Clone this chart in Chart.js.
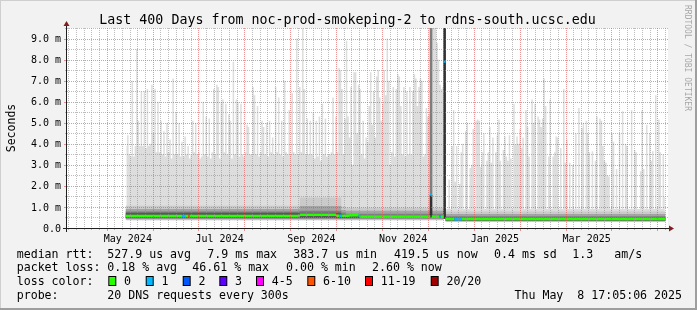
<!DOCTYPE html>
<html><head><meta charset="utf-8">
<script src="https://cdn.jsdelivr.net/npm/chart.js@4.4.1/dist/chart.umd.min.js"></script>
<style>
html,body{margin:0;padding:0;background:#f2f2f2;overflow:hidden;}
#wrap{width:697px;height:310px;position:relative;}
canvas{display:block;}
</style></head><body>
<div id="wrap"><canvas id="chart" width="697" height="310"></canvas></div>
<script>
// ================= DATA =================
const TITLE = "Last 400 Days from noc-prod-smokeping-2 to rdns-south.ucsc.edu";
const Y_TITLE = "Seconds";
const WATERMARK = "RRDTOOL / TOBI OETIKER";
const yTickValues = [0,1,2,3,4,5,6,7,8,9];
const yTickLabels = ["0.0","1.0 m","2.0 m","3.0 m","4.0 m","5.0 m","6.0 m","7.0 m","8.0 m","9.0 m"];
// label every second major period, starting with May 2024
const xLabelTexts = ["May 2024","Jul 2024","Sep 2024","Nov 2024","Jan 2025","Mar 2025"];

// x values are days since 2024-05-01 00:00
// smoke maximum (ms), one value per day, first period starting day 13
const smokeStartA = 13;
const smokeMaxA = [
 3.9,4.4,3.5,3.4,7.0,3.4,3.9,8.5,5.1,3.9,
 6.5,3.9,6.5,3.8,6.6,3.9,4.0,6.8,4.5,6.6,
 3.6,6.0,3.6,5.1,3.5,4.6,3.4,5.0,3.6,4.2,
 3.3,7.1,3.5,5.5,3.5,5.0,3.4,4.1,3.4,4.35,
 3.5,3.9,3.3,3.5,5.1,3.6,5.0,3.5,3.6,3.3,
 3.4,6.0,3.5,5.3,3.4,5.2,3.3,3.6,6.6,3.5,
 6.8,6.7,3.3,6.0,6.1,3.6,5.9,3.5,5.4,5.1,
 3.3,7.9,3.5,6.1,6.0,3.4,5.9,3.5,3.4,3.6,
 4.9,4.8,3.5,3.5,6.7,6.3,3.5,5.8,3.4,3.6,
 5.1,4.8,3.5,5.0,3.4,5.1,3.6,4.3,3.5,6.7,
 3.6,6.2,3.5,5.1,3.4,7.0,3.6,3.5,5.6,3.5,
 6.4,3.6,3.5,9.0,3.5,6.7,3.6,9.5,6.6,3.5,
 5.2,3.5,5.1,3.5,5.5,3.3,5.1,3.4,5.3,3.2,
 5.9,3.5,5.2,3.4,3.5,3.5,3.6,6.2,3.5,5.3,
 3.6,7.6,7.5,6.6,3.5,5.2,8.9,5.3,4.3,6.7,
 3.0,7.4,7.4,4.5,6.8,6.6,3.5,5.1,3.3,4.3,
 4.1,5.8,7.4,4.9,6.5,4.3,7.2,7.5,6.2,5.1,
 5.9,7.5,6.3,9.0,7.0,3.0,3.6,6.7,3.4,6.6,
 7.3,7.2,5.8,3.5,6.7,3.4,6.5,3.5,6.7,3.5,
 6.5,7.3,7.1,5.8,6.7,7.1,7.0,3.4,3.5,5.7,
 5.3,5.4,9.5,9.5,9.5,9.5,8.8,8.0,6.8,6.6,6.7
];
const smokeLowA = 0.36;
// second period starting day 225
const smokeStartB = 225;
const smokeMaxB = [
 0.9,0.9,2.3,0.9,3.9,5.6,2.2,3.9,0.9,2.1,
 3.6,4.0,0.9,4.6,5.0,0.9,2.85,3.0,4.7,0.9,
 5.1,5.15,5.1,2.9,3.6,4.5,0.9,3.2,3.6,4.8,
 3.1,4.3,0.9,3.6,4.4,5.15,3.2,0.9,3.7,4.35,
 3.4,3.2,4.4,3.3,0.9,5.9,3.95,4.35,4.0,4.7,
 3.8,4.3,0.9,5.6,4.8,3.4,0.9,6.1,5.0,5.9,
 0.9,5.3,5.15,4.8,5.2,7.1,5.8,0.9,3.4,6.1,
 0.9,3.4,3.6,4.35,4.3,0.9,3.8,0.9,6.6,3.1,
 4.2,0.9,3.1,0.9,3.0,0.9,4.5,0.9,5.7,0.9,
 4.75,5.0,0.9,5.1,4.5,3.6,0.9,3.65,0.9,3.2,
 5.3,0.9,5.2,5.1,3.9,3.2,3.1,2.5,2.45,0.9,
 4.5,4.1,0.9,2.8,0.9,4.5,0.9,5.55,0.9,4.0,
 3.9,0.9,0.9,5.6,0.9,3.7,3.6,0.9,0.9,2.7,
 5.6,2.8,0.9,4.9,0.9,4.5,3.2,3.65,0.9,6.3,
 0.9,5.15,3.6,0.9,3.5,1.5
];
const smokeLowB = 0.28;

// inner smoke bands (breakpoint days, tops per band), lower bounds per band
const bandDaysA = [12.5, 128, 155.5, 158.5, 168, 223.5];
const bandTopA = [
 [0.98, 1.06, 1.45, 1.02, 0.96, 0.96],
 [0.84, 0.90, 1.05, 0.86, 0.82, 0.82],
 [0.72, 0.78, 0.82, 0.74, 0.68, 0.68],
 [0.66, 0.72, 0.72, 0.67, 0.62, 0.62]
];
const bandLowA = [0.38, 0.42, 0.45, 0.48];
const bandDaysB = [224.5, 370.5];
const bandTopB = [[0.78,0.78],[0.66,0.66],[0.56,0.56],[0.50,0.50]];
const bandLowB = [0.30, 0.32, 0.34, 0.36];

// wide-spread columns (day, low, high)
const spreadDays = [215, 215, 224];
const spreadLow  = [1.55, 0.55, 0.45];
const spreadHigh = [9.5, 1.55, 9.5];

// median rtt (ms): runs [start day, end day, value, lost pings]
const medStart = [12.5, 50, 52, 54, 55, 128, 152, 154, 156, 161, 167, 168, 215.5, 220.5, 221.5, 224.5, 230.5, 235.5];
const medEnd   = [50, 52, 54, 55, 128, 152, 154, 156, 161, 167, 168, 214.5, 220.5, 221.5, 223.5, 230.5, 235.5, 370.5];
const medVals  = [0.57,0.57,0.57,0.57,0.57,0.63,0.58,0.58,0.58,0.61,0.58,0.54,0.54,0.54,0.54,0.43,0.42,0.43];
const medLoss  = [0,1,0,7,0,0,0,1,0,0,1,0,0,1,0,0,1,0];
// isolated medians
const dotDays = [215, 224];
const dotVals = [1.58, 7.9];
const dotLoss = [1, 1];

// legend content
const lossLabels = ["0","1","2","3","4-5","6-10","11-19","20/20"];
const lossColors = ["#26ff00","#00b8ff","#0059ff","#5e00ff","#ff00ff","#ff5500","#ff0000","#a10000"];
const medianStats = ["median rtt:","527.9 us avg","7.9 ms max","383.7 us min","419.5 us now","0.4 ms sd","1.3","am/s"];
const lossStats = ["packet loss:","0.18 % avg","46.61 % max","0.00 % min","2.60 % now"];
const probeInfo = ["loss color:","probe:","20 DNS requests every 300s","Thu May  8 17:05:06 2025"];

// ================= HELPERS =================
function lossClass(n){
  if (n <= 0) return 0;
  if (n <= 3) return n;
  if (n <= 5) return 4;
  if (n <= 10) return 5;
  if (n <= 19) return 6;
  return 7;
}
const SMOKE = ['#dddddd','#cacaca','#a4a4a4','#7e7e7e','#585858'];
const MONO = "'DejaVu Sans Mono', monospace";
const X_MIN = -26.32, X_MAX = 372.1;
const PERIOD = 365/12;          // major grid spacing (days)
const majorDays = [], minorDays = [];
for (let k=-1; k<=13; k++){
  majorDays.push(k*PERIOD);
  for (let j=1;j<6;j++) minorDays.push(k*PERIOD + j*PERIOD/6);
}

// ================= DATASETS =================
const datasets = [];
datasets.push({type:'line', data: smokeMaxA.map((v,i)=>({x:smokeStartA+i, y:v})), stepped:'middle',
  borderWidth:0, borderColor:'rgba(0,0,0,0)', pointRadius:0, fill:{value:smokeLowA}, backgroundColor:SMOKE[0], order:40});
datasets.push({type:'line', data: smokeMaxB.map((v,i)=>({x:smokeStartB+i, y:v})), stepped:'middle',
  borderWidth:0, borderColor:'rgba(0,0,0,0)', pointRadius:0, fill:{value:smokeLowB}, backgroundColor:SMOKE[0], order:39});
bandTopA.forEach((tops,k)=>{
  datasets.push({type:'line', data: bandDaysA.map((d,i)=>({x:d, y:tops[i]})), stepped:'after',
    borderWidth:0, borderColor:'rgba(0,0,0,0)', pointRadius:0, fill:{value:bandLowA[k]}, backgroundColor:SMOKE[k+1], order:30-k});
});
bandTopB.forEach((tops,k)=>{
  datasets.push({type:'line', data: bandDaysB.map((d,i)=>({x:d, y:tops[i]})), stepped:'after',
    borderWidth:0, borderColor:'rgba(0,0,0,0)', pointRadius:0, fill:{value:bandLowB[k]}, backgroundColor:SMOKE[k+1], order:20-k});
});
datasets.push({type:'bar', data: spreadDays.map((d,i)=>({x:d, y:[spreadLow[i], spreadHigh[i]]})),
  backgroundColor: spreadDays.map((d,i)=> i===0 ? '#7e7e7e' : '#323232'), barThickness: 2, grouped:false, order:10});
// one median dataset per loss colour, each run drawn as its own horizontal piece
lossColors.forEach((col,c)=>{
  const pts = [];
  medStart.forEach((s,i)=>{
    if (lossClass(medLoss[i]) !== c) return;
    pts.push({x:s, y:medVals[i]}, {x:medEnd[i], y:medVals[i]}, {x:medEnd[i], y:null});
  });
  if (!pts.length) return;
  datasets.push({type:'line', data: pts, borderColor: col, borderWidth: 2.6, pointRadius:0, fill:false,
    borderCapStyle:'butt', spanGaps:false, tension:0, order: 3 - (c>0?1:0)});
});
datasets.push({type:'line', data: dotDays.map((d,i)=>({x:d, y:dotVals[i]})), showLine:false,
  pointStyle:'rect', pointRadius:1.5, pointBorderWidth:0,
  pointBackgroundColor: dotLoss.map(n=>lossColors[lossClass(n)]), order:1});

// ================= DECORATION PLUGIN =================
function hline(ctx,x1,x2,y){ctx.beginPath();ctx.moveTo(x1,y);ctx.lineTo(x2,y);ctx.stroke();}
function vline(ctx,x,y1,y2){ctx.beginPath();ctx.moveTo(x,y1);ctx.lineTo(x,y2);ctx.stroke();}

const rrdPlugin = {
  id:'rrd',
  beforeDraw(chart){
    const {ctx, chartArea:a, width:W, height:H} = chart;
    ctx.save();
    ctx.fillStyle='#f2f2f2'; ctx.fillRect(0,0,W,H);
    ctx.fillStyle='#cfcfcf'; ctx.fillRect(0,0,W,1); ctx.fillRect(0,0,1,H);
    ctx.fillStyle='#9e9e9e'; ctx.fillRect(0,H-2,W,2); ctx.fillRect(W-2,0,2,H);
    ctx.fillStyle='#ffffff'; ctx.fillRect(a.left, a.top, a.right-a.left, a.bottom-a.top);
    ctx.restore();
  },
  afterDatasetsDraw(chart){
    const {ctx, chartArea:a, scales:{x:xs, y:ys}} = chart;
    const L=a.left, R=a.right, T=a.top, B=a.bottom;
    ctx.save();
    ctx.lineWidth = 1;
    const GRID='rgba(143,143,143,0.6)', MGRID='rgba(222,79,79,0.6)';
    ctx.strokeStyle = GRID; ctx.setLineDash([1,1]);
    for (let v=0.5; v<=9.5; v+=1){ const y=Math.round(ys.getPixelForValue(v))+0.5; hline(ctx,L,R,y); }
    for (const d of minorDays){ const x=Math.round(xs.getPixelForValue(d))+0.5; if(x>L && x<R) vline(ctx,x,T,B); }
    ctx.strokeStyle = MGRID;
    for (const v of yTickValues){ if(v===0) continue; const y=Math.round(ys.getPixelForValue(v))+0.5; hline(ctx,L,R,y); }
    for (const d of majorDays){ const x=Math.round(xs.getPixelForValue(d))+0.5; if(x>L && x<R) vline(ctx,x,T,B); }
    ctx.setLineDash([]);
    ctx.strokeStyle = GRID;
    for (let v=0.5; v<=9.5; v+=1){ const y=Math.round(ys.getPixelForValue(v))+0.5; hline(ctx,L-2,L,y); }
    for (const d of minorDays){ const x=Math.round(xs.getPixelForValue(d))+0.5; if(x>L && x<R) vline(ctx,x,B,B+2); }
    ctx.strokeStyle = MGRID;
    for (const v of yTickValues){ const y=Math.round(ys.getPixelForValue(v))+0.5; hline(ctx,L-3,L,y); }
    for (const d of majorDays){ const x=Math.round(xs.getPixelForValue(d))+0.5; if(x>L && x<R) vline(ctx,x,B,B+3); }
    ctx.strokeStyle = '#1f1f1f';
    hline(ctx, L-4, R+2, B+0.5);
    vline(ctx, L-0.5, T-3, B+4);
    ctx.fillStyle = '#801f1f';
    ctx.beginPath(); ctx.moveTo(L-3.5,T-2); ctx.lineTo(L+2.5,T-2); ctx.lineTo(L-0.5,T-7); ctx.closePath(); ctx.fill();
    ctx.beginPath(); ctx.moveTo(R+1,B-2.5); ctx.lineTo(R+1,B+3.5); ctx.lineTo(R+6,B+0.5); ctx.closePath(); ctx.fill();
    ctx.fillStyle='#000'; ctx.font = "10px " + MONO; ctx.textAlign='right'; ctx.textBaseline='alphabetic';
    yTickValues.forEach((v,i)=>{ ctx.fillText(yTickLabels[i], 61, ys.getPixelForValue(v)+3.6); });
    ctx.textAlign='center';
    xLabelTexts.forEach((s,i)=>{ const x = xs.getPixelForValue(majorDays[1+2*i] + 14); ctx.fillText(s, x, 241.5); });
    ctx.font = "13.3px " + MONO; ctx.textAlign='center';
    ctx.fillText(TITLE, 347.5, 24);
    ctx.save(); ctx.font = "11.5px " + MONO; ctx.translate(15, (T+B)/2); ctx.rotate(-Math.PI/2);
    ctx.textAlign='center'; ctx.fillText(Y_TITLE, 0, 0); ctx.restore();
    ctx.save(); ctx.font = "8px " + MONO; ctx.fillStyle='rgba(0,0,0,0.33)'; ctx.translate(685, 5); ctx.rotate(Math.PI/2);
    ctx.textAlign='left'; ctx.fillText(WATERMARK, 0, 0); ctx.restore();
    ctx.font = "11.6px " + MONO; ctx.textAlign='left'; ctx.fillStyle='#000';
    const medX = [16.7,107.3,207.3,293.3,394,494,572.3,614.3];
    medianStats.forEach((s,i)=> ctx.fillText(s, medX[i], 257.5));
    const lossX = [16.7,107.3,192.3,286,372];
    lossStats.forEach((s,i)=> ctx.fillText(s, lossX[i], 271.3));
    ctx.fillText(probeInfo[0], 16.7, 285);
    const boxX = [108.3,145.7,182.7,219.3,256,307.3,365,430.7];
    lossLabels.forEach((s,i)=>{
      ctx.fillStyle='#000'; ctx.fillRect(boxX[i], 276, 8, 10);
      ctx.fillStyle=lossColors[i]; ctx.fillRect(boxX[i]+1, 277, 6, 8);
      ctx.fillStyle='#000'; ctx.fillText(s, boxX[i]+15.7, 285);
    });
    ctx.fillText(probeInfo[1], 16.7, 298.8);
    ctx.fillText(probeInfo[2], 107.3, 298.8);
    ctx.textAlign='right'; ctx.fillText(probeInfo[3], 682, 298.8);
    ctx.restore();
  }
};

new Chart(document.getElementById('chart'), {
  type:'line',
  data:{ datasets },
  options:{
    responsive:false, devicePixelRatio:1, animation:false,
    layout:{ padding:{ left:67, top:28, right:29, bottom:82 } },
    plugins:{ legend:{display:false}, tooltip:{enabled:false}, title:{display:false} },
    scales:{
      x:{ type:'linear', min:X_MIN, max:X_MAX, offset:false, display:false },
      y:{ type:'linear', min:0, max:9.5, display:false }
    }
  },
  plugins:[rrdPlugin]
});
</script></body></html>
